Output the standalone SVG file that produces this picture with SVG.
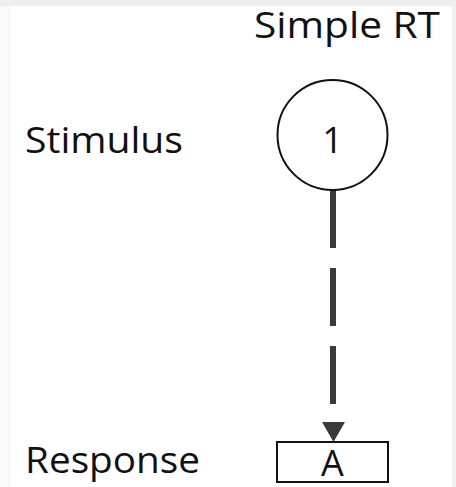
<svg xmlns="http://www.w3.org/2000/svg" width="456" height="487" viewBox="0 0 456 487">
  <style>
    .lbl { font-family: "Open Sans", "Liberation Sans", Arial, sans-serif; font-size: 36px; fill: #111; }
    .node { fill: #fff; stroke: #111; stroke-width: 2; }
    .flow { stroke: #3a3a3a; stroke-width: 6; stroke-dasharray: 58 20; fill: none; }
    .head { fill: #3a3a3a; }
  </style>

  <!-- page background with faint frame edges -->
  <rect x="0" y="0" width="456" height="487" fill="#ffffff"/>
  <rect x="0" y="0" width="456" height="6" fill="#efefef"/>
  <rect x="0" y="6" width="11" height="481" fill="#f9f9f9"/>
  <rect x="452" y="6" width="4" height="481" fill="#f1f1f1"/>

  <!-- row and column labels -->
  <text class="lbl" x="254" y="38" textLength="186" lengthAdjust="spacingAndGlyphs">Simple RT</text>
  <text class="lbl" x="25" y="153" textLength="158" lengthAdjust="spacingAndGlyphs">Stimulus</text>
  <text class="lbl" x="25" y="473" textLength="175" lengthAdjust="spacingAndGlyphs">Response</text>

  <!-- connector: stimulus to response -->
  <g id="connectors">
    <path class="flow" d="M333,190 V407"/>
    <path class="head" d="M322,422 L345,422 L333.5,442 Z"/>
  </g>

  <!-- stimulus node -->
  <g id="stimulus-1">
    <circle class="node" cx="332.5" cy="135" r="55"/>
    <text class="lbl" x="332.5" y="153" text-anchor="middle" font-size="44">1</text>
  </g>

  <!-- response node -->
  <g id="response-A">
    <rect class="node" x="277" y="442" width="111" height="40"/>
    <text class="lbl" x="332.5" y="476" text-anchor="middle" font-size="38">A</text>
  </g>
</svg>
